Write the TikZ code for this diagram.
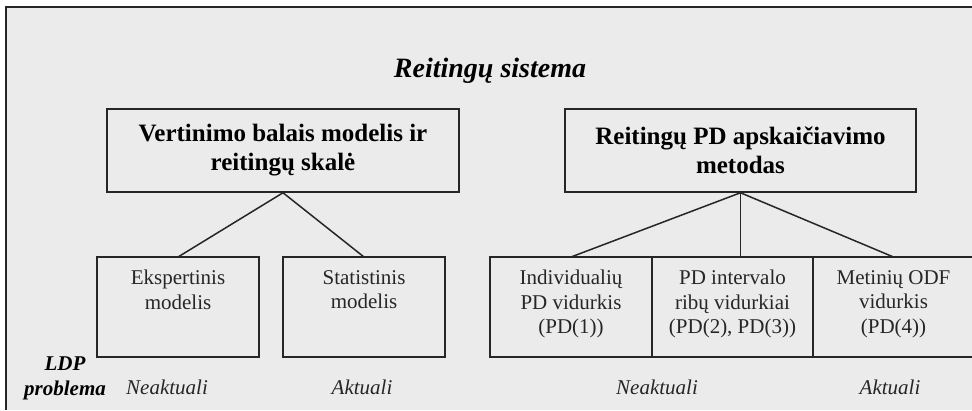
\documentclass[tikz,border=0pt]{standalone}
\usepackage{fontspec}
\setmainfont{Liberation Serif}
\usepackage{tikz}
\usetikzlibrary{positioning}

\begin{document}
\begin{tikzpicture}[
  x=1pt, y=-1pt,
  head/.style={draw=black!85, line width=1.5pt, align=center, inner sep=0pt,
               minimum height=83pt, font=\bfseries\fontsize{25}{29}\selectfont},
  leaf/.style={draw=black!85, line width=1.5pt, minimum height=100pt,
               inner sep=0pt, outer sep=0pt},
  leaftext/.style={align=center, inner sep=0pt, text=black!85,
                   font=\fontsize{21}{24.5}\selectfont},
  note/.style={anchor=base, text=black!85, font=\itshape\fontsize{21}{24.5}\selectfont},
  link/.style={line width=1.5pt, black!85}]
\useasboundingbox (0,0) rectangle (972,410);
\fill[black!8] (6,7) rectangle (972,410);
\draw[line width=1.8pt, black!85] (6,410) -- (6,7) -- (972,7);
\node[anchor=base, font=\bfseries\itshape\fontsize{28}{32}\selectfont] (title) at (490,77) {Reitingų sistema};
\node[head, minimum width=352pt] (vert) at (283,150.5) {Vertinimo balais modelis ir\\reitingų skalė};
\node[head, minimum width=351pt] (reit) at (740.5,150.5) {Reitingų PD apskaičiavimo\\metodas};
\node[leaf, minimum width=162pt] (eksp) at (178,307) {};
\node[leaf, minimum width=162pt] (stat) at (364,307) {};
\node[leaf, minimum width=162pt] (indiv) at (571,307) {};
\node[leaf, minimum width=161pt, right=0pt of indiv] (rib) {};
\node[leaf, minimum width=161pt, right=0pt of rib] (odf) {};
\node[leaftext, below=13pt of eksp.north] (eksptxt) {Ekspertinis\\modelis};
\node[leaftext, below=13pt of stat.north] (stattxt) {Statistinis\\modelis};
\node[leaftext, below=13pt of indiv.north] (indivtxt) {Individualių\\PD vidurkis\\(PD(1))};
\node[leaftext, below=13pt of rib.north] (ribtxt) {PD intervalo\\ribų vidurkiai\\(PD(2), PD(3))};
\node[leaftext, below=13pt of odf.north] (odftxt) {Metinių ODF\\vidurkis\\(PD(4))};
\draw[link] (vert.south) -- (eksp.north); \draw[link] (vert.south) -- (stat.north);
\draw[link] (reit.south) -- (indiv.north); \draw[link] (reit.south) -- (reit.south |- rib.north); \draw[link] (reit.south) -- (odf.north);
\node[align=center, font=\bfseries\itshape\fontsize{21}{25}\selectfont] (ldp) at (65,378) {LDP\\problema};
\node[note] (eksplbl) at (167,394) {Neaktuali};
\node[note] (statlbl) at (362,394) {Aktuali};
\node[note] (pdlbl) at (657,394) {Neaktuali};
\node[note] (odflbl) at (890,394) {Aktuali};
\end{tikzpicture}
\end{document}
